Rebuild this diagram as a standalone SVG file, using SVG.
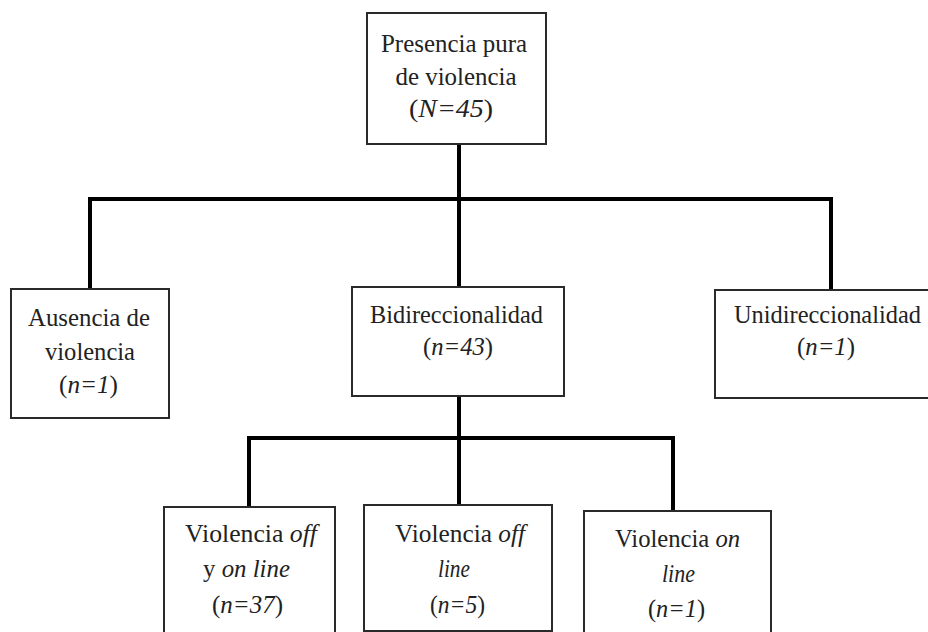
<svg xmlns="http://www.w3.org/2000/svg" width="928" height="632" viewBox="0 0 928 632">
<style>
.box{fill:#fff;stroke:#2a2a2a;stroke-width:2}
.c{fill:none;stroke:#000;stroke-width:4;stroke-linecap:square}
.i{font-style:italic}
</style>
<rect width="928" height="632" fill="#fff"/>
<g id="connectors">
<path class="c" d="M459 144V199M90 289V199H831V290M459 199V287"/>
<path class="c" d="M459 396V438M249 507V438H673V511M459 438V505"/>
</g>
<g font-family="Liberation Serif, DejaVu Serif, serif" font-size="26" fill="#222" text-anchor="middle">
<g id="n-root">
<rect class="box" x="367" y="13" width="179" height="131"/>
<text x="454" y="52" textLength="146" lengthAdjust="spacingAndGlyphs">Presencia pura</text>
<text x="456" y="85" textLength="121" lengthAdjust="spacingAndGlyphs">de violencia</text>
<text x="451" y="117" textLength="84" lengthAdjust="spacingAndGlyphs">(<tspan class="i">N=45</tspan>)</text>
</g>
<g id="n-ausencia">
<rect class="box" x="11" y="289" width="158" height="129"/>
<text x="89" y="326" textLength="122" lengthAdjust="spacingAndGlyphs">Ausencia de</text>
<text x="90" y="360" textLength="90" lengthAdjust="spacingAndGlyphs">violencia</text>
<text x="88.5" y="393" textLength="59" lengthAdjust="spacingAndGlyphs">(<tspan class="i">n=1</tspan>)</text>
</g>
<g id="n-bidir">
<rect class="box" x="352" y="287" width="212" height="109"/>
<text x="456.5" y="323" textLength="173" lengthAdjust="spacingAndGlyphs">Bidireccionalidad</text>
<text x="458" y="355" textLength="70" lengthAdjust="spacingAndGlyphs">(<tspan class="i">n=43</tspan>)</text>
</g>
<g id="n-unidir">
<rect class="box" x="715" y="290" width="220" height="108"/>
<text x="827.5" y="323" textLength="187" lengthAdjust="spacingAndGlyphs">Unidireccionalidad</text>
<text x="826" y="355" textLength="58" lengthAdjust="spacingAndGlyphs">(<tspan class="i">n=1</tspan>)</text>
</g>
<g id="n-offon">
<rect class="box" x="164" y="507" width="171" height="130"/>
<text x="251" y="542" textLength="132" lengthAdjust="spacingAndGlyphs">Violencia <tspan class="i">off</tspan></text>
<text x="246.5" y="577" textLength="87" lengthAdjust="spacingAndGlyphs">y <tspan class="i">on line</tspan></text>
<text x="247.5" y="613" textLength="71" lengthAdjust="spacingAndGlyphs">(<tspan class="i">n=37</tspan>)</text>
</g>
<g id="n-off">
<rect class="box" x="364" y="505" width="188" height="126"/>
<text x="460" y="542" textLength="130" lengthAdjust="spacingAndGlyphs">Violencia <tspan class="i">off</tspan></text>
<text x="454" y="577" textLength="32" lengthAdjust="spacingAndGlyphs" class="i">line</text>
<text x="457.5" y="613" textLength="55" lengthAdjust="spacingAndGlyphs">(<tspan class="i">n=5</tspan>)</text>
</g>
<g id="n-on">
<rect class="box" x="584" y="511" width="187" height="126"/>
<text x="677.5" y="547" textLength="125" lengthAdjust="spacingAndGlyphs">Violencia <tspan class="i">on</tspan></text>
<text x="678.5" y="582" textLength="33" lengthAdjust="spacingAndGlyphs" class="i">line</text>
<text x="676.5" y="617" textLength="57" lengthAdjust="spacingAndGlyphs">(<tspan class="i">n=1</tspan>)</text>
</g>
</g>
</svg>
